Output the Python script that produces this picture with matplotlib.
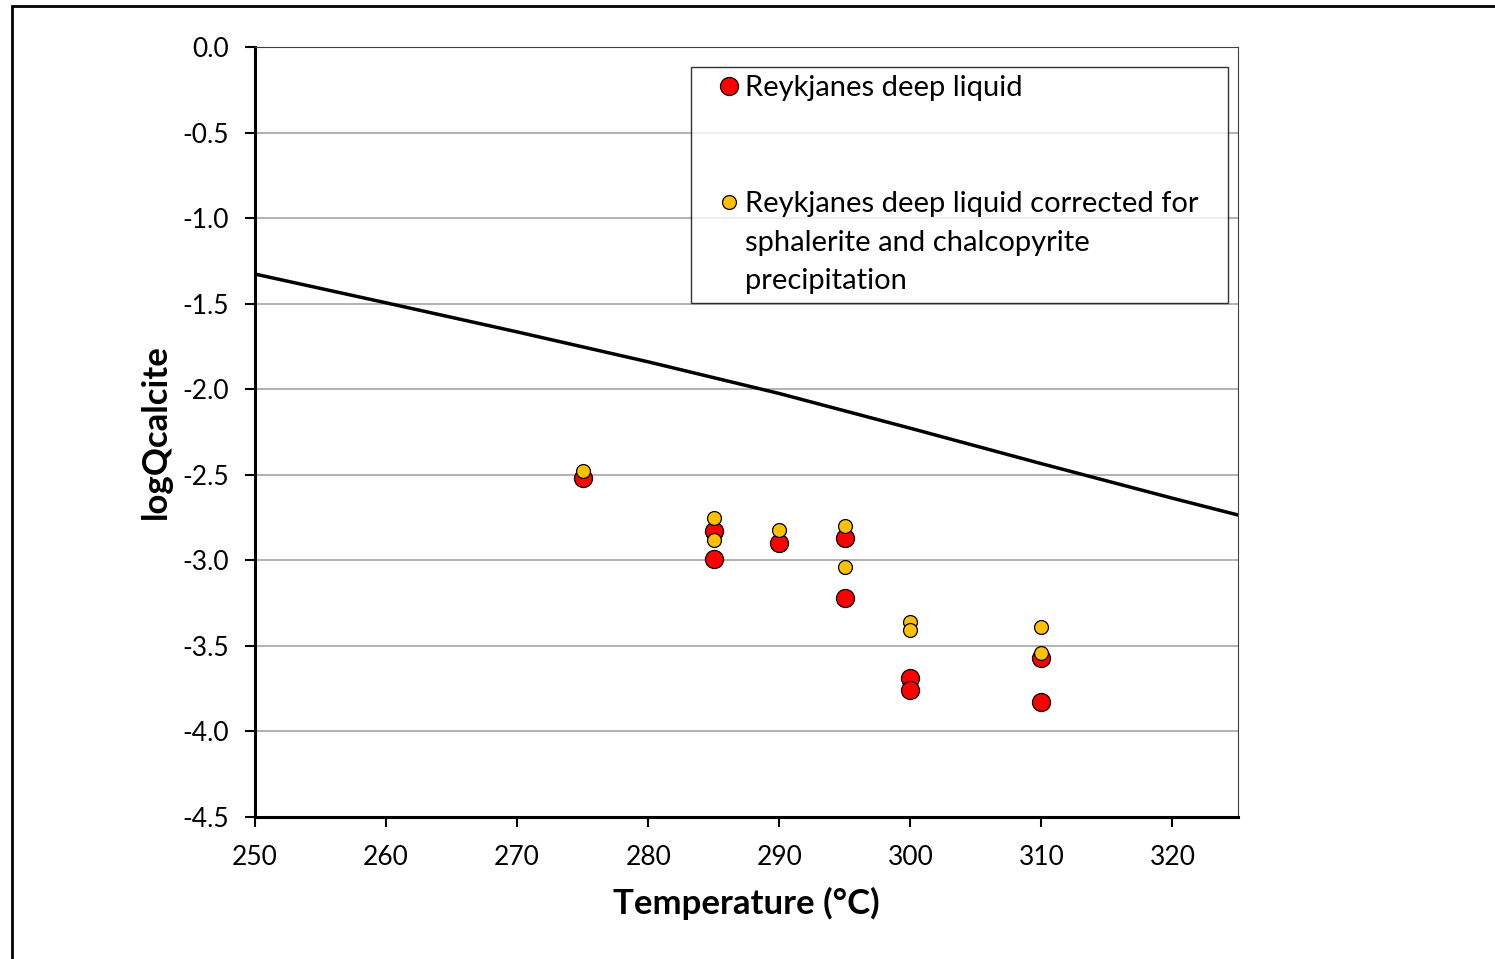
import matplotlib.pyplot as plt
from matplotlib.lines import Line2D
from matplotlib.patches import Rectangle

# deep liquid samples
t_deep = [275, 285, 285, 290, 295, 295, 300, 300, 310, 310]
q_deep = [-2.52, -2.83, -2.99, -2.90, -2.87, -3.22, -3.69, -3.76, -3.57, -3.83]

# corrected for sphalerite and chalcopyrite precipitation
t_corr = [275, 285, 285, 290, 295, 295, 300, 300, 310, 310]
q_corr = [-2.48, -2.75, -2.88, -2.82, -2.80, -3.04, -3.36, -3.41, -3.39, -3.54]

# calcite saturation curve
t_sat = [250, 260, 270, 280, 290, 300, 310, 320, 325]
q_sat = [-1.327, -1.495, -1.665, -1.84, -2.025, -2.228, -2.435, -2.637, -2.735]

plt.rcParams['font.family'] = ['Lato', 'DejaVu Sans']

fig = plt.figure(figsize=(14.95, 9.59), dpi=100)
ax = fig.add_axes([255 / 1495, 1 - 817 / 959, (1238 - 255) / 1495, (817 - 47) / 959])

# outer frame (only left/top edges visible)
fig.patches.append(Rectangle((12 / 1495, -0.1), 1.2, 1 - 6 / 959 + 0.1, transform=fig.transFigure,
                             fill=False, edgecolor='black', linewidth=2))

ax.plot(t_sat, q_sat, color='black', linewidth=2.5, zorder=3)
ax.plot(t_deep, q_deep, 'o', color='#FF0000', markeredgecolor='black', markeredgewidth=0.9,
        markersize=13, zorder=4)
ax.plot(t_corr, q_corr, 'o', color='#FFC000', markeredgecolor='black', markeredgewidth=0.9,
        markersize=10, zorder=5)

ax.set_xlim(250, 325)
ax.set_ylim(-4.5, 0)
ax.set_xticks(range(250, 330, 10))
ax.set_yticks([-4.5, -4.0, -3.5, -3.0, -2.5, -2.0, -1.5, -1.0, -0.5, 0.0])
ax.set_yticklabels(['%.1f' % v for v in ax.get_yticks()])
ax.yaxis.grid(True, color='#a6a6a6', linewidth=1.2)
ax.set_axisbelow(True)
ax.tick_params(labelsize=19, length=7, width=1.5, direction='out')
ax.tick_params(axis='x', pad=13)
ax.tick_params(axis='y', pad=12)

for s in ['left', 'bottom']:
    ax.spines[s].set_linewidth(2.2)
for s in ['top', 'right']:
    ax.spines[s].set_linewidth(0.8)
    ax.spines[s].set_color('#404040')

ax.set_xlabel('Temperature (°C)', fontsize=25, fontweight='bold', labelpad=12)
ax.set_ylabel('logQcalcite', fontsize=25, fontweight='bold', labelpad=7)

blank = Line2D([], [], linestyle='none', marker=None)
handles = [
    Line2D([], [], linestyle='none', marker='o', color='#FF0000', markeredgecolor='black',
           markeredgewidth=0.9, markersize=13),
    blank,
    blank,
    Line2D([], [], linestyle='none', marker='o', color='#FFC000', markeredgecolor='black',
           markeredgewidth=0.9, markersize=10),
    blank,
    blank,
]
labels = ['Reykjanes deep liquid', ' ', ' ',
          'Reykjanes deep liquid corrected for',
          'sphalerite and chalcopyrite',
          'precipitation']
x0 = (691 - 255) / (1238 - 255)
x1 = (1228 - 255) / (1238 - 255)
ytop = 1 - (67 - 47) / (817 - 47)
leg = ax.legend(handles, labels, loc='upper left', bbox_to_anchor=(x0, ytop, x1 - x0, 0.0),
                mode='expand', fontsize=21, frameon=True, fancybox=False, edgecolor='black',
                handlelength=2.03, handletextpad=-0.46, labelspacing=0.43,
                borderpad=0.29, borderaxespad=0)
leg.get_frame().set_linewidth(1.0)

fig.savefig('out.png', dpi=100)
